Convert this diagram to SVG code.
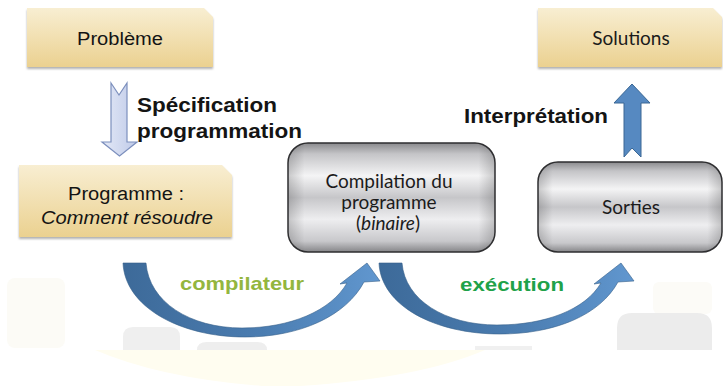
<svg xmlns="http://www.w3.org/2000/svg" width="723" height="386" viewBox="0 0 723 386">
  <style>
    .sans { font-family: "Liberation Sans", Arial, Helvetica, sans-serif; fill: #141414; }
    .bold { font-weight: bold; }
    .ital { font-style: italic; }
    .hum  { font-family: Lato, "Open Sans", "Noto Sans", sans-serif; fill: #1b1b1b; }
    .note { fill: url(#noteFill); filter: url(#noteShadow); }
    .metal-edge { fill: none; stroke: #2e2e30; stroke-width: 1.5; }
    .curve { stroke: #355f8a; stroke-width: 0.6; }
  </style>
  <defs>
    <linearGradient id="noteFill" x1="0" y1="0" x2="0" y2="1">
      <stop offset="0" stop-color="#f8eed2"/>
      <stop offset="1" stop-color="#ebd190"/>
    </linearGradient>
    <filter id="noteShadow" x="-5%" y="-10%" width="110%" height="130%">
      <feDropShadow dx="0" dy="2" stdDeviation="1.2" flood-color="#000" flood-opacity="0.3"/>
    </filter>
    <linearGradient id="metalV" x1="0" y1="0" x2="0" y2="1">
      <stop offset="0" stop-color="#8a8a8d"/>
      <stop offset="0.1" stop-color="#c4c4c7"/>
      <stop offset="0.3" stop-color="#f4f4f5"/>
      <stop offset="0.5" stop-color="#c6c6c9"/>
      <stop offset="0.7" stop-color="#eeeef0"/>
      <stop offset="0.9" stop-color="#c8c8cb"/>
      <stop offset="1" stop-color="#858588"/>
    </linearGradient>
    <linearGradient id="metalH" x1="0" y1="0" x2="1" y2="0">
      <stop offset="0" stop-color="#000" stop-opacity="0.18"/>
      <stop offset="0.08" stop-color="#000" stop-opacity="0"/>
      <stop offset="0.92" stop-color="#000" stop-opacity="0"/>
      <stop offset="1" stop-color="#000" stop-opacity="0.18"/>
    </linearGradient>
    <linearGradient id="paleBlue" x1="0" y1="0" x2="1" y2="0">
      <stop offset="0" stop-color="#e4e9f7"/>
      <stop offset="1" stop-color="#bfcae8"/>
    </linearGradient>
    <linearGradient id="curveBlue" x1="0" y1="0" x2="1" y2="0">
      <stop offset="0" stop-color="#3d6a99"/>
      <stop offset="0.55" stop-color="#4b7db1"/>
      <stop offset="1" stop-color="#6197cf"/>
    </linearGradient>
  </defs>

  <rect width="723" height="386" fill="#ffffff"/>

  <!-- faint background panels -->
  <g id="backdrop">
    <rect x="7" y="278" width="58" height="70" rx="8" fill="#fcfbf6"/>
    <path d="M123 350 V337 Q123 327 133 327 H170 Q180 327 180 337 V350 Z" fill="#efefef"/>
    <path d="M197 350 Q197 342 207 342 H257 Q267 342 267 350 Z" fill="#eeeeee"/>
    <rect x="475" y="346" width="57" height="4" fill="#f0f0f0"/>
    <rect x="653" y="282" width="59" height="32" rx="6" fill="#fcfbf7"/>
    <path d="M617 350 V328 Q617 313 632 313 H697 Q712 313 712 328 V350 Z" fill="#ececec"/>
    <path d="M95 350 H485 Q420 378 300 386 H262 Q160 378 95 350 Z" fill="#fffdf0"/>
  </g>

  <!-- connectors -->
  <g id="connectors">
    <!-- down arrow: specification -->
    <path d="M111 83 L119 95 L127 83 V142 H137 L119.5 156 L102 142 H111 Z" fill="url(#paleBlue)" stroke="#7c8fbd" stroke-width="1.2"/>
    <text class="sans bold" x="137" y="112" font-size="20" textLength="140" lengthAdjust="spacingAndGlyphs">Spécification</text>
    <text class="sans bold" x="137" y="138" font-size="20" textLength="165" lengthAdjust="spacingAndGlyphs">programmation</text>

    <!-- up arrow: interpretation -->
    <path d="M624 157 L632 148 L641 157 V103 H650 L632 84 L614 103 H624 Z" fill="#5689c1" stroke="#3a6794" stroke-width="1"/>
    <text class="sans bold" x="464" y="123" font-size="20" textLength="144" lengthAdjust="spacingAndGlyphs">Interprétation</text>

    <!-- curved arrow: compilateur -->
    <path class="curve" fill="url(#curveBlue)" d="M123 263 C125 307 180 337 245 337 C300 337 346 316 364 282 L380 281 L367 263 L340 284 L347 283 C331 311 290 328 242 328 C190 328 149 302 146 263 Z"/>
    <text class="sans bold" x="180" y="290" font-size="19" style="fill:#93b63e" textLength="124" lengthAdjust="spacingAndGlyphs">compilateur</text>

    <!-- curved arrow: execution -->
    <path class="curve" fill="url(#curveBlue)" d="M379 263 C381 306 435 334 500 334 C555 334 600 315 618 282 L634 281 L621 263 L594 284 L601 283 C585 310 545 325 497 325 C445 325 405 300 402 263 Z"/>
    <text class="sans bold" x="460" y="291" font-size="19" style="fill:#1fa24a" textLength="104" lengthAdjust="spacingAndGlyphs">exécution</text>
  </g>

  <!-- nodes -->
  <g id="probleme">
    <path class="note" d="M27 8 H204 L213 17 V67 H27 Z"/>
    <text class="sans" x="77" y="45" font-size="18" textLength="86" lengthAdjust="spacingAndGlyphs">Problème</text>
  </g>

  <g id="programme">
    <path class="note" d="M19 165 H222 L232 175 V237 H19 Z"/>
    <text class="sans" x="68" y="200" font-size="18" textLength="116" lengthAdjust="spacingAndGlyphs">Programme :</text>
    <text class="sans ital" x="41" y="224" font-size="18" textLength="172" lengthAdjust="spacingAndGlyphs">Comment résoudre</text>
  </g>

  <g id="solutions">
    <path class="note" d="M538 8 H713 L722 17 V67 H538 Z"/>
    <text class="hum" x="631" y="45" font-size="19" text-anchor="middle">Solutions</text>
  </g>

  <g id="compilation">
    <rect x="288" y="143" width="207" height="109" rx="20" fill="url(#metalV)"/>
    <rect x="288" y="143" width="207" height="109" rx="20" fill="url(#metalH)"/>
    <rect class="metal-edge" x="288" y="143" width="207" height="109" rx="20"/>
    <text class="hum" x="389" y="188" font-size="19" text-anchor="middle">Compilation du</text>
    <text class="hum" x="389" y="209" font-size="19" text-anchor="middle">programme</text>
    <text class="hum" x="388" y="230" font-size="19" text-anchor="middle">(<tspan font-style="italic">binaire</tspan>)</text>
  </g>

  <g id="sorties">
    <rect x="538" y="162" width="184" height="90" rx="20" fill="url(#metalV)"/>
    <rect x="538" y="162" width="184" height="90" rx="20" fill="url(#metalH)"/>
    <rect class="metal-edge" x="538" y="162" width="184" height="90" rx="20"/>
    <text class="hum" x="631" y="214" font-size="19" text-anchor="middle">Sorties</text>
  </g>
</svg>
